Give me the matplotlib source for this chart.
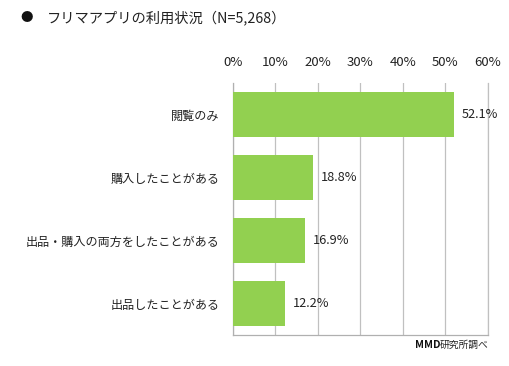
import matplotlib.pyplot as plt

plt.rcParams['font.family'] = ['Noto Sans CJK JP', 'DejaVu Sans']

categories = ['閲覧のみ', '購入したことがある', '出品・購入の両方をしたことがある', '出品したことがある']
values = [52.1, 18.8, 16.9, 12.2]
ticks = [0, 10, 20, 30, 40, 50, 60]

fig = plt.figure(figsize=(5.10, 3.66), dpi=100)
ax = fig.add_axes([233 / 510, 1 - 335 / 366, 255 / 510, 252 / 366])

pos = list(range(len(categories)))
ax.barh(pos, values, height=0.7, color='#92D050', zorder=3)
ax.set_ylim(len(categories) - 0.5, -0.5)
ax.set_xlim(0, 60)
ax.set_xticks(ticks)
ax.set_xticklabels([f'{t}%' for t in ticks])
ax.xaxis.tick_top()
ax.tick_params(axis='x', length=0, pad=10, labelsize=9.5, colors='#222222')
ax.set_yticks(pos)
ax.set_yticklabels(categories)
ax.tick_params(axis='y', length=0, pad=9.5, labelsize=8.7, colors='#222222')
ax.grid(axis='x', color='#c0c0c0', linewidth=0.9, zorder=0)
ax.spines['top'].set_visible(False)
ax.spines['right'].set_color('#c0c0c0')
ax.spines['right'].set_linewidth(0.9)
for side in ['left', 'bottom']:
    ax.spines[side].set_color('#b0b0b0')
    ax.spines[side].set_linewidth(0.9)

for p, v in zip(pos, values):
    ax.text(v + 1.8, p, f'{v}%', va='center', ha='left', fontsize=9.2, color='#222222')

fig.text(20 / 510, 1 - 18 / 366, '●', fontsize=9, va='center', ha='left', color='#111111')
fig.text(47 / 510, 1 - 18 / 366, 'フリマアプリの利用状況（N=5,268）', fontsize=10.3,
         va='center', ha='left', color='#222222')
fig.text(441 / 510, 1 - 345 / 366, 'MMD', fontsize=7.5, fontweight='bold', va='center', ha='right',
         color='#111111')
fig.text(488 / 510, 1 - 345 / 366, '研究所調べ', fontsize=7, va='center', ha='right', color='#222222')

fig.savefig('out.png', dpi=100)
